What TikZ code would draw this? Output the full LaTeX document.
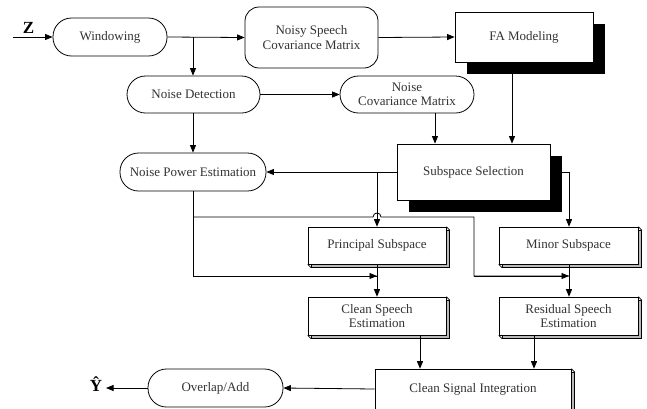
\documentclass[tikz,border=0pt]{standalone}
\usepackage{fontspec}
\setmainfont{Liberation Serif}
\usetikzlibrary{arrows.meta,shadows,calc}
\begin{document}
\begin{tikzpicture}[x=1pt,y=-1pt,
  every node/.style={font=\fontsize{13}{14.5}\selectfont, text=black!80, align=center, inner sep=0pt},
  stad/.style={draw, line width=0.8pt, fill=white, minimum height=38pt, rounded corners=18.5pt},
  rbox/.style={draw, line width=0.8pt, fill=white, rounded corners=14pt},
  shbox/.style={draw, line width=0.8pt, fill=white, general shadow={fill=black, shadow xshift=11.5pt, shadow yshift=-11.5pt}},
  bevel/.style={draw, line width=0.6pt, fill=white, general shadow={fill=gray!55, draw=black, line width=0.6pt, shadow xshift=3.5pt, shadow yshift=-3.5pt}},
  ln/.style={line width=0.8pt},
  arr/.style={line width=0.8pt, -{Triangle[length=7.5pt,width=6pt]}},
  lbl/.style={font=\fontsize{17}{17}\selectfont\bfseries, text=black}]
\useasboundingbox (0,0) rectangle (647,408);

% nodes
\node[stad, minimum width=114pt] (win) at (110,37) {Windowing};
\node[rbox, minimum width=133pt, minimum height=61pt] (nscm) at (311.5,37.5) {Noisy Speech\\Covariance Matrix};
\node[shbox, minimum width=138pt, minimum height=50pt] (fa) at (524,37) {FA Modeling};
\node[stad, minimum width=133pt, minimum height=37pt] (nd) at (193.5,94.5) {Noise Detection};
\node[stad, minimum width=134pt, minimum height=37pt] (ncm) at (407,94.5) {Noise\\Covariance Matrix};
\node[shbox, minimum width=153pt, minimum height=56pt] (ss) at (473.5,172) {Subspace Selection};
\node[stad, minimum width=146pt] (npe) at (193,172) {Noise Power Estimation};
\node[bevel, minimum width=138pt, minimum height=37pt] (ps) at (377,245.5) {Principal Subspace};
\node[bevel, minimum width=139pt, minimum height=37pt] (ms) at (568.5,245.5) {Minor Subspace};
\node[bevel, minimum width=138pt, minimum height=38pt] (cse) at (377,316) {Clean Speech\\Estimation};
\node[bevel, minimum width=139pt, minimum height=38pt] (rse) at (568.5,316) {Residual Speech\\Estimation};
\node[bevel, minimum width=196pt, minimum height=40pt] (csi) at (473,389) {Clean Signal Integration};
\node[stad, minimum width=135pt] (ola) at (215.5,388) {Overlap/Add};

\foreach \n in {ps,ms,cse,rse,csi} {
  \draw[line width=0.6pt] (\n.north east) -- ++(3.5pt,-3.5pt);
  \draw[line width=0.6pt] (\n.south west) -- ++(3.5pt,-3.5pt);
}

% labels
\node[lbl] (zl) at (28.5,27.5) {Z};
\node[lbl] (yl) at (96,384) {Ŷ};
\coordinate (zin) at (13,37);
\coordinate (yout) at (106,388);

% helper coordinates
\coordinate (b1) at (193,37);
\coordinate (x435) at (435,0);
\coordinate (x512) at (512,0);
\coordinate (b2) at (377,172);
\coordinate (x420) at (420,0);
\coordinate (x534) at (534,0);
\coordinate (j1) at (377,276);
\coordinate (j2) at (569,276);
\coordinate (h0) at (193,217);

% connectors
\draw[arr] (zin) -- (win.west);
\draw[arr] (win.east) -- (nscm.west);
\draw[arr] (b1) -- (nd.north -| b1);
\draw[arr] (nscm.east) -- (fa.west);
\draw[arr] (nd.east) -- (ncm.west);
\draw[arr] (nd.south -| b1) -- (npe.north -| b1);
\draw[arr] (ncm.south -| x435) -- (ss.north -| x435);
\draw[arr] (fa.south -| x512) -- (ss.north -| x512);
\draw[arr] (ss.west) -- (npe.east);
\draw[arr] (b2) -- (ps.north);
\draw[arr] (ss.east) -| (ms.north -| j2);
\draw[ln] (npe.south -| b1) |- (j1);
\draw[arr] (h0 |- j1) -- (j1);
\draw[ln] (h0) -- (373,217) .. controls (373,211.7) and (381,211.7) .. (381,217) -- (474,217) -- (474,276) -- (j2);
\draw[arr] (474,276) -- (j2);
\draw[arr] (ps.south) -- (cse.north);
\draw[arr] (ms.south -| j2) -- (rse.north -| j2);
\draw[arr] (cse.south -| x420) -- (csi.north -| x420);
\draw[arr] (rse.south -| x534) -- (csi.north -| x534);
\draw[arr] (csi.west) -- (ola.east);
\draw[arr] (ola.west) -- (yout);
\end{tikzpicture}
\end{document}
